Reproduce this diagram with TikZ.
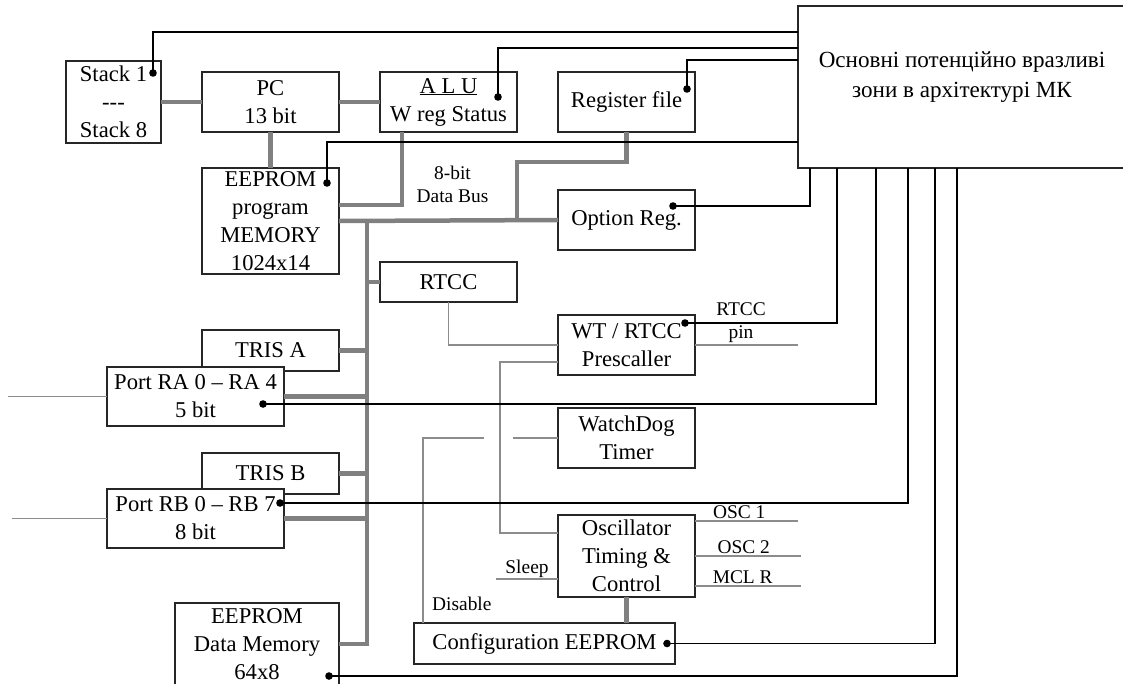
\documentclass[tikz,border=0pt]{standalone}
\usepackage{fontspec}
\setmainfont{Liberation Serif}
\usetikzlibrary{positioning,calc}

\begin{document}
\begin{tikzpicture}[
      x=1pt, y=-1pt,
      font=\fontsize{22.6}{28}\selectfont,
      box/.style={draw=black!85, line width=1.1pt, fill=white, align=center,
                  inner sep=0pt, outer sep=0pt,
                  minimum width=137pt, minimum height=60pt},
      lbl/.style={font=\fontsize{19.4}{23}\selectfont, align=center, inner sep=0pt},
      bus/.style={line width=4.5pt, draw=black!50},
      wire/.style={line width=1.7pt, draw=black!45},
      sig/.style={line width=1.2pt}
    ]
    \useasboundingbox (0,0) rectangle (1123,683);

    % ---- top row ----
    \node[box, minimum width=95pt, minimum height=82pt] (stack) at (113.5,102)
      {Stack 1\\{-}{-}{-}\\Stack 8};
    \node[box, right=41pt of stack] (pc) {PC\\13 bit};
    \node[box, right=41pt of pc] (alu) {\underline{A L U}\\W reg Status};
    \node[box, right=41pt of alu] (reg) {Register file};
    % zone box runs off the right edge of the page
    \node[box, draw=none, minimum width=350pt, minimum height=162pt,
          right=103pt of reg, yshift=15pt] (mk) {};
    \draw[black!85, line width=1.1pt]
      (mk.north east) -- (mk.north west) -- (mk.south west) -- (mk.south east);
    \node[align=center, font=\fontsize{23.1}{30}\selectfont] (mktxt)
      at ($(mk.west)+(164,-10)$)
      {Основні потенційно вразливі\\зони в архітектурі МК};

    % ---- memory and registers ----
    \node[box, minimum height=106pt, below=36pt of pc] (eep)
      {EEPROM\\program\\MEMORY\\1024x14};
    \node[box, below=58pt of reg] (opt) {Option Reg.};
    \node[box, minimum height=40pt, below=130pt of alu] (rtcc) {RTCC};
    \node[lbl] (dbus) at ($(eep.east)!0.5!(opt.west)+(4,-36)$) {8-bit\\Data Bus};

    % ---- ports ----
    \node[box, minimum height=41pt, below=56pt of eep] (trisa) {TRIS A};
    \node[box, minimum width=177pt, minimum height=59pt,
          below=-4pt of trisa, xshift=-75pt] (porta) {Port RA 0 -- RA 4\\5 bit};
    \node[box, minimum height=41pt, below=82pt of trisa] (trisb) {TRIS B};
    \node[box, minimum width=177pt, minimum height=59pt,
          below=-5pt of trisb, xshift=-75pt] (portb) {Port RB 0 -- RB 7\\8 bit};
    \node[box, minimum width=164pt, minimum height=82pt,
          below=55pt of portb, xshift=61.5pt] (eed) {EEPROM\\Data Memory\\64x8};

    % ---- timing ----
    \node[box, below=65pt of opt] (presc) {WT / RTCC\\Prescaller};
    \node[box, below=33pt of presc] (wdt) {WatchDog\\Timer};
    \node[box, minimum height=82pt, below=47pt of wdt] (osc)
      {Oscillator\\Timing \&\\Control};
    \node[box, minimum width=261pt, minimum height=41pt,
          below=26pt of osc, xshift=-82pt] (cfg) {Configuration EEPROM};
    \node[lbl] (pinlbl) at ($(presc.east)+(46,-22)$) {RTCC\\pin};
    \node[lbl, anchor=south west] (dislbl) at ($(cfg.north west)+(18,-12)$) {Disable};

    % ---- data bus ----
    \draw[bus] (stack) -- (pc);
    \draw[bus] (pc) -- (alu);
    \draw[bus] (pc) -- (eep);
    \draw[bus] ([xshift=22pt]alu.south west) |- ([yshift=16pt]eep.east);
    \draw[bus] (eep.east) -- (opt.west);
    \draw[bus] (reg.south) -- ++(0,30) -| (alu.east |- eep.east);
    \coordinate (bt) at ($(eep.east)+(28,0)$);
    \draw[bus] (bt) |- (eed.east);
    \foreach \n in {rtcc,trisa,porta,trisb,portb}
      \draw[bus] (\n) -- (\n -| bt);
    \draw[bus] (osc) -- (osc |- cfg.north);

    % ---- control lines ----
    \coordinate (raIn) at ($(porta.west)+(-99,0)$);
    \coordinate (rbIn) at ($(portb.west)+(-95,0)$);
    \draw[wire] (porta.west) -- (raIn);
    \draw[wire] (portb.west) -- (rbIn);
    \draw[wire] (rtcc.south) |- (presc.west);
    \coordinate (pinEnd) at ($(presc.east)+(103,0)$);
    \draw[wire] (presc.east) -- (pinEnd);
    \draw[wire] ([yshift=-17pt]presc.west) -- ++(-58,0) |- ([yshift=23pt]osc.west);
    \coordinate (wdtEnd) at ($(wdt.west)+(-45,0)$);
    \draw[wire] (wdt.west) -- (wdtEnd);
    \coordinate (disEnd) at ($(wdt.west)+(-74,0)$);
    \draw[wire] (disEnd) -| ([xshift=9pt]cfg.north west);
    \coordinate (slpEnd) at ($(osc.west)+(-62,23)$);
    \draw[wire] ([yshift=-23pt]osc.west) -- node[lbl, above=1pt] {Sleep} (slpEnd);
    \coordinate (o1) at ($(osc.north east)+(103,6)$);
    \coordinate (o2) at ($(osc.east)+(106,0)$);
    \coordinate (o3) at ($(osc.east)+(106,30)$);
    \draw[wire] ([yshift=-6pt]osc.north east) -- node[lbl, above=1pt, pos=0.43] {OSC 1} (o1);
    \draw[wire] (osc.east) -- node[lbl, above=1pt, pos=0.46] {OSC 2} (o2);
    \draw[wire] ([yshift=-30pt]osc.east) -- node[lbl, above=1pt, pos=0.45] {MCL R} (o3);

    % ---- links to the vulnerable zones ----
    \coordinate (dStk) at ($(stack.north east)+(-8,12)$);
    \coordinate (dAlu) at ($(alu.north east)+(-19,25)$);
    \coordinate (dReg) at ($(reg.north east)+(-8,17)$);
    \coordinate (dEep) at ($(eep.north east)+(-12,15)$);
    \coordinate (dOpt) at ($(opt.north east)+(-22,16)$);
    \coordinate (dPre) at ($(presc.north east)+(-10,8)$);
    \coordinate (dRA) at ($(porta.north east)+(-21,37)$);
    \coordinate (dRB) at ($(portb.north east)+(-4,14)$);
    \coordinate (dCfg) at ($(cfg.east)+(-8,0)$);
    \coordinate (dEed) at ($(eed.north east)+(-10,73)$);
    \foreach \m [count=\i] in {26,42,54,136}
      \coordinate (mw\i) at ($(mk.north west)+(0,\m)$);
    \foreach \m [count=\i] in {12,39,78,110,137,159}
      \coordinate (ms\i) at ($(mk.south west)+(\m,0)$);
    \foreach \d [count=\i] in {dStk,dAlu,dReg,dEep}
      \draw[sig] (\d) |- (mw\i);
    \foreach \d [count=\i] in {dOpt,dPre,dRA,dRB,dCfg,dEed}
      \draw[sig] (\d) -| (ms\i);
    \foreach \d in {dStk,dAlu,dReg,dEep,dOpt,dPre,dRA,dRB,dCfg,dEed}
      \fill (\d) circle (3.8pt);
  \end{tikzpicture}
\end{document}
